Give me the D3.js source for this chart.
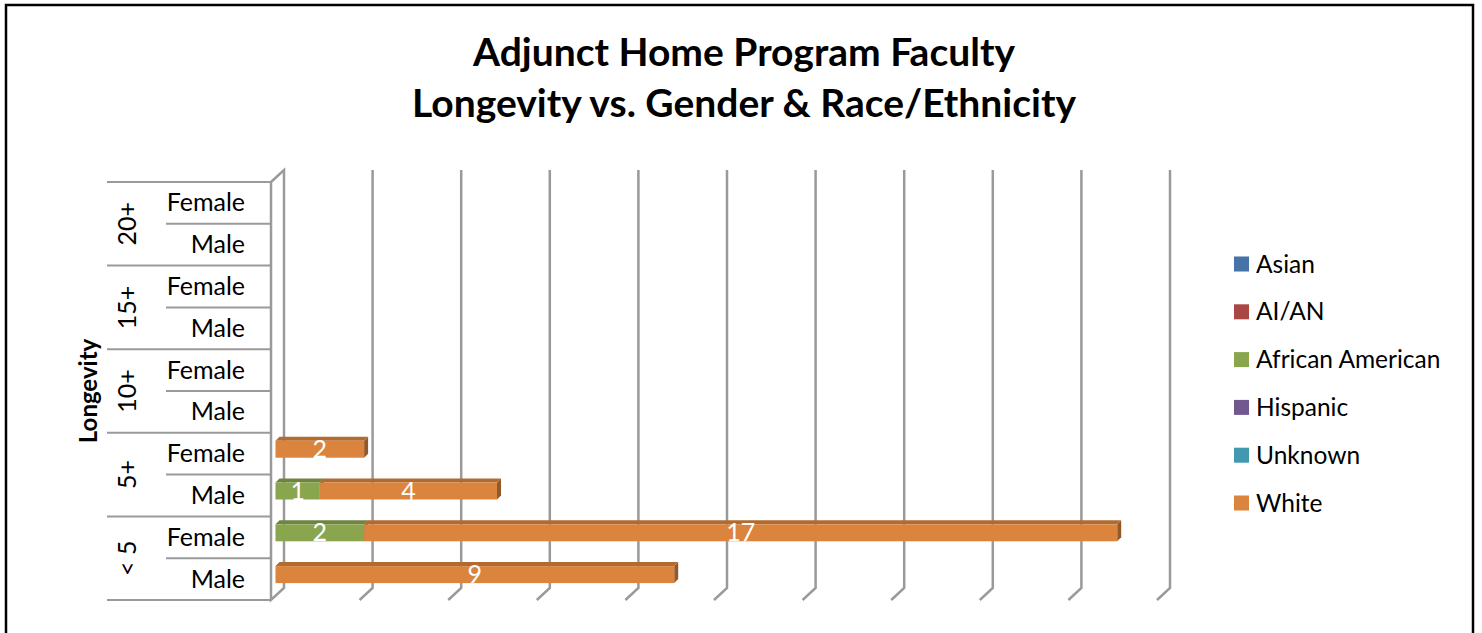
<!DOCTYPE html>
<html>
<head>
<meta charset="utf-8">
<script src="https://cdn.jsdelivr.net/npm/d3@7"></script>
<style>
  body { margin: 0; background: #fff; }
  text { font-family: Lato, "Open Sans", sans-serif; }
</style>
</head>
<body>
<div id="chart"></div>
<script>
// Adjunct faculty: longevity vs gender & race, 3D-ish stacked horizontal bars

const groups = ["20+", "15+", "10+", "5+", "< 5"];
const genders = ["Female", "Male"];
const rows = ["20+|Female", "20+|Male", "15+|Female", "15+|Male", "10+|Female",
              "10+|Male", "5+|Female", "5+|Male", "< 5|Female", "< 5|Male"];

const races = ["Asian", "AI/AN", "African American", "Hispanic", "Unknown", "White"];
const raceColors = ["#4572A7", "#AA4643", "#89A54E", "#71588F", "#4198AF", "#DB843D"];

// values per race, one per row (top to bottom)
const asian    = [0, 0, 0, 0, 0, 0, 0, 0, 0, 0];
const aian     = [0, 0, 0, 0, 0, 0, 0, 0, 0, 0];
const afrAm    = [0, 0, 0, 0, 0, 0, 0, 1, 2, 0];
const hispanic = [0, 0, 0, 0, 0, 0, 0, 0, 0, 0];
const unknown  = [0, 0, 0, 0, 0, 0, 0, 0, 0, 0];
const white    = [0, 0, 0, 0, 0, 0, 2, 4, 17, 9];

const xTicks = [0, 2, 4, 6, 8, 10, 12, 14, 16, 18, 20];

const width = 1482, height = 633;
const plot = { left: 271, right: 1157, top: 182, bottom: 600 };
const depth = { dx: 13, dy: -12 };     // back wall offset
const barOff = 4.5, barDepth = 4;      // bar position inside the depth

const svg = d3.select("#chart").append("svg")
    .attr("width", width)
    .attr("height", height);

// outer frame
svg.append("rect")
    .attr("x", 6).attr("y", 5)
    .attr("width", 1467).attr("height", 700)
    .attr("fill", "none")
    .attr("stroke", "#000")
    .attr("stroke-width", 2.5);

// title
svg.append("text")
    .attr("text-anchor", "middle")
    .attr("x", 744).attr("y", 66)
    .style("font-size", "39px").style("font-weight", "bold")
    .text("Adjunct Home Program Faculty");
svg.append("text")
    .attr("text-anchor", "middle")
    .attr("x", 744).attr("y", 117)
    .style("font-size", "39px").style("font-weight", "bold")
    .text("Longevity vs. Gender & Race/Ethnicity");

let data = rows.map((r, i) => ({
    row: r,
    "Asian": asian[i], "AI/AN": aian[i], "African American": afrAm[i],
    "Hispanic": hispanic[i], "Unknown": unknown[i], "White": white[i]
}));

let x = d3.scaleLinear()
    .domain([0, 20])
    .range([plot.left, plot.right]);

let y = d3.scaleBand()
    .domain(rows)
    .range([plot.top, plot.bottom])
    .paddingInner(0);

const gridColor = "#9a9a9a";

// gridlines on the back wall, folding down to the floor
const grid = svg.append("g")
    .attr("fill", "none")
    .attr("stroke", gridColor)
    .attr("stroke-width", 2.5);

grid.selectAll("path.grid")
    .data(xTicks.slice(1))
    .join("path")
    .attr("class", "grid")
    .attr("d", d => {
        const xb = x(d) + depth.dx;
        return `M${xb},${plot.top + depth.dy} L${xb},${plot.bottom + depth.dy} L${x(d)},${plot.bottom}`;
    });

// the category axis side wall
grid.append("path")
    .attr("d", `M${plot.left},${plot.top} L${plot.left + depth.dx},${plot.top + depth.dy}
        L${plot.left + depth.dx},${plot.bottom + depth.dy} L${plot.left},${plot.bottom} Z`);

// category labels and separators
const cat = svg.append("g");
const rowH = y.bandwidth();

cat.selectAll("line.group")
    .data(d3.range(groups.length + 1))
    .join("line")
    .attr("x1", 107).attr("x2", plot.left)
    .attr("y1", i => plot.top + i * rowH * 2)
    .attr("y2", i => plot.top + i * rowH * 2)
    .attr("stroke", gridColor).attr("stroke-width", 2);

cat.selectAll("line.sub")
    .data(groups)
    .join("line")
    .attr("x1", 166).attr("x2", plot.left)
    .attr("y1", (g, i) => plot.top + (i * 2 + 1) * rowH)
    .attr("y2", (g, i) => plot.top + (i * 2 + 1) * rowH)
    .attr("stroke", gridColor).attr("stroke-width", 2);

cat.selectAll("text.sub")
    .data(rows)
    .join("text")
    .attr("text-anchor", "end")
    .attr("x", 245)
    .attr("y", d => y(d) + rowH / 2 + 8.5)
    .style("font-size", "25px")
    .text(d => d.split("|")[1]);

cat.selectAll("text.group")
    .data(groups)
    .join("text")
    .attr("text-anchor", "middle")
    .attr("transform", (g, i) => `translate(${136},${plot.top + (i * 2 + 1) * rowH}) rotate(-90)`)
    .style("font-size", "25px")
    .text(d => d);

svg.append("text")
    .attr("text-anchor", "middle")
    .attr("transform", `translate(${97},${(plot.top + plot.bottom) / 2}) rotate(-90)`)
    .style("font-size", "24px").style("font-weight", "bold")
    .text("Longevity");

// stacked 3D bars
const stack = d3.stack().keys(races);
const series = stack(data);
const color = d3.scaleOrdinal().domain(races).range(raceColors);

const barH = 17;
const bars = svg.append("g");

series.forEach(s => {
    const c = d3.color(color(s.key));
    const segs = s.filter(d => d[1] - d[0] > 0);
    segs.forEach(d => {
        const x0 = x(d[0]) + barOff, x1 = x(d[1]) + barOff;
        const yt = y(d.data.row) + rowH / 2 - barOff - barH / 2;
        const g = bars.append("g");
        g.append("path")
            .attr("d", `M${x1},${yt} L${x1 + barDepth},${yt - barDepth} L${x1 + barDepth},${yt + barH - barDepth} L${x1},${yt + barH} Z`)
            .attr("fill", c.darker(1.1));
        g.append("path")
            .attr("d", `M${x0},${yt} L${x0 + barDepth},${yt - barDepth} L${x1 + barDepth},${yt - barDepth} L${x1},${yt} Z`)
            .attr("fill", c.darker(0.6));
        g.append("rect")
            .attr("x", x0).attr("y", yt)
            .attr("width", x1 - x0).attr("height", barH)
            .attr("fill", c);
        g.append("text")
            .attr("text-anchor", "middle")
            .attr("x", (x0 + x1) / 2)
            .attr("y", yt + barH / 2 + 8.5)
            .attr("fill", "#fff")
            .style("font-size", "25px")
            .text(d[1] - d[0]);
    });
});

// legend
const legend = svg.append("g")
    .selectAll("g")
    .data(races)
    .join("g")
    .attr("transform", (d, i) => `translate(1234,${264 + i * 47.8})`);

legend.append("rect")
    .attr("x", 0).attr("y", -7.5)
    .attr("width", 15).attr("height", 15)
    .attr("fill", d => color(d));

legend.append("text")
    .attr("x", 22).attr("y", 8.5)
    .style("font-size", "24.5px")
    .text(d => d);
</script>
</body>
</html>
